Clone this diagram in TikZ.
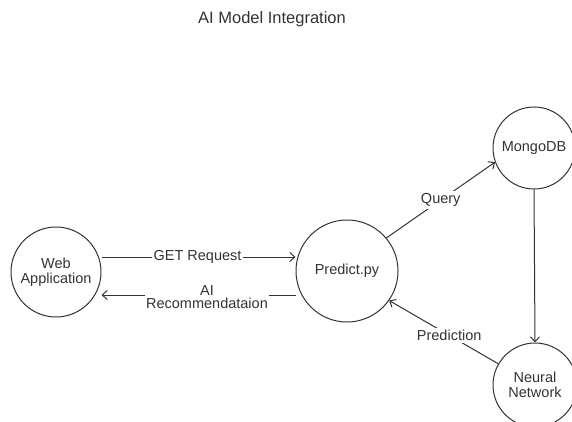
\documentclass[tikz,border=0pt]{standalone}
\usepackage{fontspec}
\setmainfont{Liberation Sans}
\usetikzlibrary{arrows.meta}
\definecolor{ink}{HTML}{333333}
\begin{document}
\begin{tikzpicture}[x=1pt,y=-1pt,
  circ/.style={draw=ink,line width=1pt,circle,minimum size=#1,inner sep=0pt,align=center,text=ink,font=\fontsize{14.5}{15}\selectfont},
  conn/.style={draw=ink,line width=1pt,-{Straight Barb[length=5pt,width=9pt]}},
  lbl/.style={fill=white,inner sep=2pt,text=ink,align=center,font=\fontsize{14.5}{15}\selectfont}]
\path[use as bounding box] (0,0) rectangle (572,422);
\begin{scope}
\clip (0,0) rectangle (572,422);
\node[text=ink,font=\fontsize{16.5}{18}\selectfont] (title) at (272,19) {AI Model Integration};
\node[circ=90pt] (web) at (56,272) {Web\\Application};
\node[circ=102pt] (pred) at (347,271) {Predict.py};
\node[circ=82pt] (mongo) at (534,148) {MongoDB};
\node[circ=84pt] (nn) at (535,385) {Neural\\Network};
\draw[conn] (web.east |- 0,257) -- node[lbl,xshift=-1pt] {GET Request} (pred.west |- 0,257);
\draw[conn] (pred.west |- 0,295) -- node[lbl,xshift=8.5pt,yshift=-2pt,inner sep=1pt,font=\fontsize{14.5}{13}\selectfont] {AI\\Recommendataion} (web.east |- 0,295);
\draw[conn] (pred.40) -- node[lbl,pos=0.5] {Query} (mongo.200);
\draw[conn] (mongo.south) -- (nn.north);
\draw[conn] (nn.150) -- node[lbl,pos=0.45] {Prediction} (pred.-35);
\end{scope}
\end{tikzpicture}
\end{document}
